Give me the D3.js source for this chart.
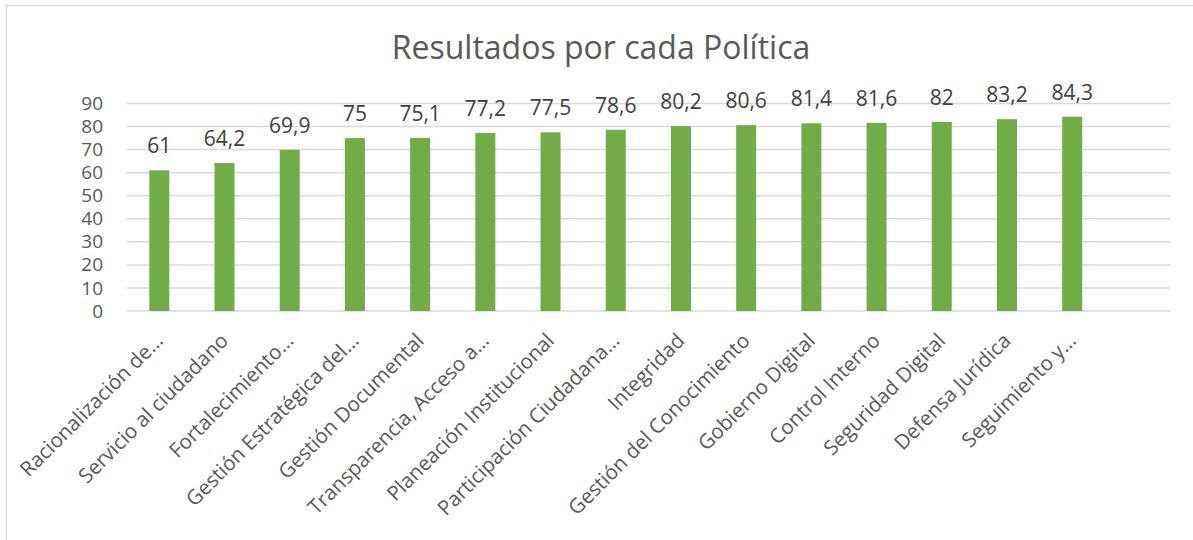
<!DOCTYPE html>
<html>
<head>
<meta charset="utf-8">
<script src="https://cdn.jsdelivr.net/npm/d3@7"></script>
<style>
  body { margin: 0; background: #fff; }
  text { font-family: "Open Sans", sans-serif; }
</style>
</head>
<body>
<div id="chart"></div>
<script>
// data
const categories = ["Racionalización de…", "Servicio al ciudadano", "Fortalecimiento…",
  "Gestión Estratégica del…", "Gestión Documental", "Transparencia, Acceso a…",
  "Planeación Institucional", "Participación Ciudadana…", "Integridad",
  "Gestión del Conocimiento", "Gobierno Digital", "Control Interno",
  "Seguridad Digital", "Defensa Jurídica", "Seguimiento y…", ""];
const values = [61, 64.2, 69.9, 75, 75.1, 77.2, 77.5, 78.6, 80.2, 80.6, 81.4, 81.6, 82, 83.2, 84.3, null];
const yTicks = [0, 10, 20, 30, 40, 50, 60, 70, 80, 90];
const title = "Resultados por cada Política";

const W = 1193, H = 540;
const textColor = "#595959";
const gridColor = "#d9d9d9";
const barColor = "#70ad47";

const svg = d3.select("#chart").append("svg")
  .attr("width", W)
  .attr("height", H);

// chart frame
svg.append("rect")
  .attr("x", 6.5).attr("y", 5.5)
  .attr("width", W).attr("height", H)
  .attr("fill", "none")
  .attr("stroke", gridColor)
  .attr("stroke-width", 1.3);

const x = d3.scaleBand()
  .domain(categories.map((c, i) => i))
  .range([126.7, 1170])
  .padding(0);

const y = d3.scaleLinear()
  .domain([0, 90])
  .range([311, 103.5]);

// title
svg.append("text")
  .attr("x", 601)
  .attr("y", 59)
  .attr("text-anchor", "middle")
  .attr("font-size", 32)
  .attr("fill", textColor)
  .text(title);

// gridlines
svg.append("g")
  .selectAll("line")
  .data(yTicks)
  .join("line")
    .attr("x1", x.range()[0])
    .attr("x2", x.range()[1])
    .attr("y1", d => y(d))
    .attr("y2", d => y(d))
    .attr("stroke", gridColor)
    .attr("stroke-width", 1.5);

// y axis labels
const yAxis = svg.append("g")
  .attr("transform", "translate(103,0)")
  .call(d3.axisLeft(y).tickValues(yTicks).tickSize(0).tickPadding(0));
yAxis.select(".domain").remove();
yAxis.selectAll("text")
  .attr("font-family", "Open Sans, sans-serif")
  .attr("font-size", 19)
  .attr("fill", textColor);

// bars
const barW = 20;
const data = values.map((v, i) => ({i: i, v: v})).filter(d => d.v != null);

svg.append("g")
  .selectAll("rect")
  .data(data)
  .join("rect")
    .attr("x", d => x(d.i) + x.bandwidth() / 2 - barW / 2)
    .attr("y", d => y(d.v))
    .attr("width", barW)
    .attr("height", d => y(0) - y(d.v))
    .attr("fill", barColor);

// data labels
svg.append("g")
  .selectAll("text")
  .data(data)
  .join("text")
    .attr("x", d => x(d.i) + x.bandwidth() / 2)
    .attr("y", d => y(d.v) - 17)
    .attr("text-anchor", "middle")
    .attr("font-size", 21)
    .attr("fill", "#404040")
    .text(d => String(d.v).replace(".", ","));

// category labels, rotated
svg.append("g")
  .selectAll("text")
  .data(categories)
  .join("text")
    .attr("transform", (d, i) => "translate(" + (x(i) + x.bandwidth() / 2 + 5) + ",342) rotate(-45)")
    .attr("text-anchor", "end")
    .attr("font-size", 20.5)
    .attr("fill", textColor)
    .text(d => d);
</script>
</body>
</html>
